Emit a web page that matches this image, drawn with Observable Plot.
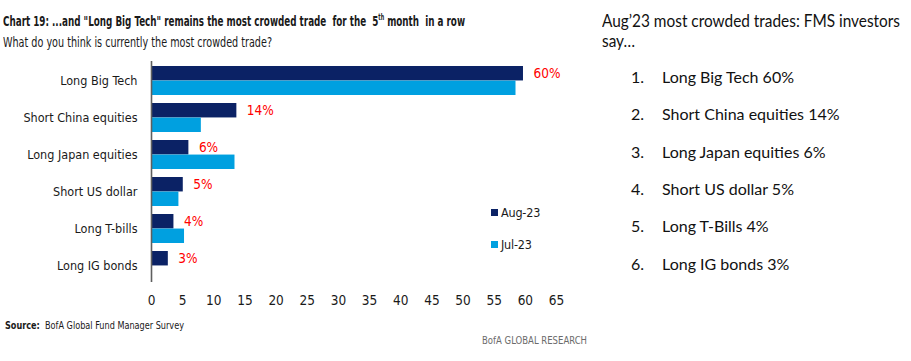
<!DOCTYPE html>
<html><head><meta charset="utf-8">
<script src="https://cdn.jsdelivr.net/npm/d3@7"></script>
<script src="https://cdn.jsdelivr.net/npm/@observablehq/plot@0.6"></script>
<style>
body{margin:0;background:#fff;width:911px;height:361px;overflow:hidden;position:relative;font-family:"DejaVu Sans Condensed","Liberation Sans Narrow",sans-serif;color:#1a1a1a;}
.fit{position:absolute;white-space:nowrap;transform-origin:0 50%;}
#title{left:3px;top:13px;font-size:14.5px;font-weight:bold;line-height:17px;}
#title sup{font-size:8px;vertical-align:6px;line-height:0;}
#subtitle{left:3px;top:34px;font-size:14px;line-height:16px;}
#chart{position:absolute;left:0;top:48px;}
#legend{position:absolute;left:491px;top:197px;font-size:12.5px;letter-spacing:-0.2px;}
#legend div{height:31.5px;display:flex;align-items:center;white-space:nowrap;}
#legend span.sw{display:inline-block;width:7px;height:7px;margin-right:3px;}
#source{left:5px;top:319px;font-size:10.5px;line-height:12px;}
#brand{left:482px;top:334px;font-size:10.5px;line-height:12px;color:#6b6b6b;}
.rh{font-family:Lato,"Open Sans",sans-serif;font-size:16.5px;color:#111;line-height:19px;}
#rh1{left:602px;top:12px;}
#rh2{left:602px;top:32px;}
#list{position:absolute;left:631px;top:58px;font-family:Lato,"Open Sans",sans-serif;font-size:16px;color:#111;}
#list div{height:37.33px;line-height:37.33px;white-space:nowrap;}
#list span.n{display:inline-block;width:31px;}
</style></head><body>
<div id="title" class="fit"></div>
<div id="subtitle" class="fit"></div>
<div id="chart"></div>
<div id="legend"></div>
<div id="source" class="fit"><b>Source:</b>&nbsp; BofA Global Fund Manager Survey</div>
<div id="brand" class="fit">BofA GLOBAL RESEARCH</div>
<div id="rh1" class="fit rh"></div>
<div id="rh2" class="fit rh"></div>
<div id="list"></div>
<script>
const categories = ["Long Big Tech","Short China equities","Long Japan equities","Short US dollar","Long T-bills","Long IG bonds"];
const aug23 = [59.7, 13.7, 6.0, 5.1, 3.6, 2.7];
const jul23 = [58.5, 8.0, 13.4, 4.4, 5.3, 0];
const augLabels = ["60%","14%","6%","5%","4%","3%"];
const xTicks = [0,5,10,15,20,25,30,35,40,45,50,55,60,65];
const seriesNames = ["Aug-23","Jul-23"];
const seriesColors = ["#0b2265","#00a0e0"];
const listItems = ["Long Big Tech 60%","Short China equities 14%","Long Japan equities 6%","Short US dollar 5%","Long T-Bills 4%","Long IG bonds 3%"];

document.getElementById("title").innerHTML = 'Chart 19: ...and "Long Big Tech" remains the most crowded trade&nbsp; for the&nbsp; 5<sup>th</sup> month&nbsp; in a row';
document.getElementById("subtitle").textContent = "What do you think is currently the most crowded trade?";
document.getElementById("rh1").textContent = "Aug\u201923 most crowded trades: FMS investors";
document.getElementById("rh2").textContent = "say\u2026";
document.getElementById("list").innerHTML = listItems.map((t,i)=>`<div><span class="n">${i+1}.</span>${t}</div>`).join("");
document.getElementById("legend").innerHTML = seriesNames.map((s,i)=>`<div><span class="sw" style="background:${seriesColors[i]}"></span>${s}</div>`).join("");

function fitWidth(id, target){
  const el = document.getElementById(id);
  const w = el.getBoundingClientRect().width;
  el.style.transform = `scaleX(${target / w})`;
  return target / w;
}
fitWidth("title", 462);
fitWidth("subtitle", 269);
fitWidth("source", 179);
fitWidth("brand", 105);
const k = fitWidth("rh1", 298);
document.getElementById("rh2").style.transform = `scaleX(${k})`;

const rows = categories.map((c,i)=>({cat:c, aug:aug23[i], jul:jul23[i], label:augLabels[i]}));

const chart = Plot.plot({
  width: 590,
  height: 267,
  marginLeft: 151,
  marginRight: 34,
  marginTop: 13,
  marginBottom: 30,
  style: {fontFamily: '"DejaVu Sans Condensed","Liberation Sans Narrow",sans-serif', fontSize: "13px", color: "#1a1a1a", background: "transparent"},
  x: {domain: [0,65], label: null},
  y: {domain: categories, paddingInner: 0.22, paddingOuter: 0.11, label: null},
  marks: [
    Plot.barX(rows, {x: "aug", y: "cat", fill: seriesColors[0], insetBottom: 14.56}),
    Plot.barX(rows, {x: "jul", y: "cat", fill: seriesColors[1], insetTop: 14.56}),
    Plot.ruleX([0], {stroke: "#5f5f5f", strokeWidth: 1.6, insetBottom: 3}),
    Plot.axisY({tickSize: 0, tickPadding: 14, fontSize: 12.5, label: null, style: "letter-spacing:-0.25px"}),
    Plot.axisX({ticks: xTicks, tickSize: 0, tickPadding: 10, fontSize: 13.5, label: null}),
    Plot.text(rows, {x: "aug", y: "cat", text: "label", dx: 10, dy: -7, textAnchor: "start", fill: "#ff0000", fontSize: 13.5})
  ]
});
document.getElementById("chart").appendChild(chart);
</script>
</body></html>
